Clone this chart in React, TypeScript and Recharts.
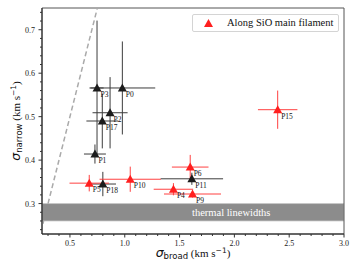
import React from 'react';
import {
  ScatterChart,
  Scatter,
  XAxis,
  YAxis,
  ErrorBar,
  ReferenceArea,
  ReferenceLine,
  Legend,
  Label,
} from 'recharts';

// tick values
const xMajor = [0.5, 1.0, 1.5, 2.0, 2.5, 3.0];
const xTicks = [
  0.3, 0.4, 0.5, 0.6, 0.7, 0.8, 0.9, 1.0, 1.1, 1.2, 1.3, 1.4, 1.5, 1.6, 1.7, 1.8, 1.9,
  2.0, 2.1, 2.2, 2.3, 2.4, 2.5, 2.6, 2.7, 2.8, 2.9, 3.0,
];
const yMajor = [0.3, 0.4, 0.5, 0.6, 0.7];
const yTicks = [
  0.24, 0.26, 0.28, 0.3, 0.32, 0.34, 0.36, 0.38, 0.4, 0.42, 0.44, 0.46, 0.48, 0.5,
  0.52, 0.54, 0.56, 0.58, 0.6, 0.62, 0.64, 0.66, 0.68, 0.7, 0.72, 0.74,
];

// cores not on the filament (black)
const blackNames = ['P0', 'P3', 'P2', 'P17', 'P1', 'P18', 'P11'];
const blackX = [0.978, 0.747, 0.866, 0.795, 0.728, 0.8, 1.612];
const blackY = [0.566, 0.566, 0.509, 0.49, 0.414, 0.345, 0.357];
const blackXErr = [0.3, 0.06, 0.16, 0.145, 0.1, 0.12, 0.285];
const blackYErr = [0.107, 0.155, 0.082, 0.063, 0.022, 0.028, 0.014];

// cores along SiO main filament (red)
const redNames = ['P15', 'P6', 'P10', 'P5', 'P4', 'P9'];
const redX = [2.395, 1.597, 1.05, 0.676, 1.444, 1.618];
const redY = [0.516, 0.384, 0.356, 0.347, 0.333, 0.322];
const redXErr = [0.18, 0.167, 0.28, 0.18, 0.18, 0.26];
const redYErr = [0.044, 0.028, 0.029, 0.019, 0.014, 0.008];

const thermalRange = [0.26, 0.3];
const xDomain = [0.245, 3.0];
const yDomain = [0.23, 0.75];

const RED = '#ff1f1f';
const RED_ERR = '#ff4040';
const BLACK = '#1c1c1c';
const BLACK_ERR = '#3c3c3c';
const SERIF = '"Liberation Serif", "DejaVu Serif", serif';
const SANS = '"DejaVu Sans", sans-serif';

const toRows = (names: string[], xs: number[], ys: number[], ex: number[], ey: number[]) =>
  names.map((name, i) => ({ name, x: xs[i], y: ys[i], ex: ex[i], ey: ey[i] }));

const blackData = toRows(blackNames, blackX, blackY, blackXErr, blackYErr);
const redData = toRows(redNames, redX, redY, redXErr, redYErr);

function triangleShape(color: string) {
  return (props: any) => {
    const { cx, cy, payload } = props;
    if (cx == null || cy == null) return <g />;
    return (
      <g>
        <polygon
          points={`${cx},${cy - 4.5} ${cx - 4.5},${cy + 3.5} ${cx + 4.5},${cy + 3.5}`}
          fill={color}
        />
        <text x={cx + 3.5} y={cy + 9} fontSize={7.5} fontFamily={SERIF} fill="#111">
          {payload.name}
        </text>
      </g>
    );
  };
}

function XTick(props: any) {
  const { x, y, payload } = props;
  const major = xMajor.includes(payload.value);
  return (
    <g>
      <line x1={x} x2={x} y1={y} y2={y + (major ? 3.5 : 2)} stroke="#333" />
      {major && (
        <text x={x} y={y + 12} textAnchor="middle" fontSize={8} fontFamily={SERIF} fill="#222">
          {payload.value.toFixed(1)}
        </text>
      )}
    </g>
  );
}

function YTick(props: any) {
  const { x, y, payload } = props;
  const major = yMajor.includes(payload.value);
  return (
    <g>
      <line x1={x} x2={x - (major ? 3.5 : 2)} y1={y} y2={y} stroke="#333" />
      {major && (
        <text x={x - 7} y={y + 3} textAnchor="end" fontSize={8} fontFamily={SERIF} fill="#222">
          {payload.value.toFixed(1)}
        </text>
      )}
    </g>
  );
}

function LegendBox() {
  return (
    <div
      style={{
        width: 145,
        height: 16,
        border: '1px solid #d4d4d4',
        borderRadius: 2,
        background: '#fff',
        position: 'relative',
      }}
    >
      <svg width={20} height={16} style={{ position: 'absolute', left: 8, top: 0 }}>
        <polygon points="7.5,4 3,12 12,12" fill={RED} />
      </svg>
      <span
        style={{
          position: 'absolute',
          left: 34,
          top: 1,
          fontFamily: SERIF,
          fontSize: 10.5,
          lineHeight: '14px',
          color: '#111',
          whiteSpace: 'nowrap',
        }}
      >
        Along SiO main filament
      </span>
    </div>
  );
}

export default function App() {
  return (
    <div style={{ position: 'absolute', left: 0, top: 0, width: 358, height: 275, background: '#fff' }}>
      <ScatterChart width={358} height={275} margin={{ top: 8, right: 14, bottom: 0, left: 0 }}>
        <XAxis
          type="number"
          dataKey="x"
          domain={xDomain}
          ticks={xTicks}
          allowDataOverflow
          interval={0}
          height={41}
          tickSize={0}
          tickMargin={0}
          tickLine={false}
          tick={<XTick />}
          axisLine={{ stroke: '#222' }}
        >
          <Label
            content={(p: any) => {
              const vb = p.viewBox || {};
              const cx = (vb.x ?? 42) + (vb.width ?? 302) / 2;
              return (
                <text x={cx} y={257} textAnchor="middle" fill="#111">
                  <tspan fontFamily={SANS} fontStyle="italic" fontSize={12.5}>σ</tspan>
                  <tspan fontFamily={SANS} fontSize={8.5} dy={2}>broad</tspan>
                  <tspan fontFamily={SERIF} fontSize={11} dy={-2}> (km s</tspan>
                  <tspan fontFamily={SANS} fontSize={7.5} dy={-4.5}>−1</tspan>
                  <tspan fontFamily={SERIF} fontSize={11} dy={4.5}>)</tspan>
                </text>
              );
            }}
          />
        </XAxis>
        <YAxis
          type="number"
          dataKey="y"
          domain={yDomain}
          ticks={yTicks}
          allowDataOverflow
          interval={0}
          width={42}
          tickSize={0}
          tickMargin={0}
          tickLine={false}
          tick={<YTick />}
          axisLine={{ stroke: '#222' }}
        >
          <Label
            content={(p: any) => {
              const vb = p.viewBox || {};
              const cy = (vb.y ?? 8) + (vb.height ?? 226) / 2;
              return (
                <text
                  x={20}
                  y={cy}
                  textAnchor="middle"
                  fill="#111"
                  transform={`rotate(-90, 20, ${cy})`}
                >
                  <tspan fontFamily={SANS} fontStyle="italic" fontSize={12.5}>σ</tspan>
                  <tspan fontFamily={SANS} fontSize={8.5} dy={2}>narrow</tspan>
                  <tspan fontFamily={SERIF} fontSize={11} dy={-2}> (km s</tspan>
                  <tspan fontFamily={SANS} fontSize={7.5} dy={-4.5}>−1</tspan>
                  <tspan fontFamily={SERIF} fontSize={11} dy={4.5}>)</tspan>
                </text>
              );
            }}
          />
        </YAxis>

        {/* one-to-one line, hidden behind the thermal band */}
        <ReferenceLine
          segment={[
            { x: 0.2, y: 0.2 },
            { x: thermalRange[0], y: thermalRange[0] },
          ]}
          stroke="#aaaaaa"
          strokeWidth={1.5}
          strokeDasharray="5 3"
          ifOverflow="hidden"
        />
        <ReferenceLine
          segment={[
            { x: thermalRange[1], y: thermalRange[1] },
            { x: 0.8, y: 0.8 },
          ]}
          stroke="#aaaaaa"
          strokeWidth={1.5}
          strokeDasharray="5 3"
          ifOverflow="hidden"
        />
        <ReferenceArea
          x1={xDomain[0]}
          x2={xDomain[1]}
          y1={thermalRange[0]}
          y2={thermalRange[1]}
          fill="#8c8c8c"
          fillOpacity={1}
          stroke="#c8c8c8"
          strokeWidth={0.8}
          ifOverflow="hidden"
          label={(p: any) => {
            const vb = p.viewBox || {};
            return (
              <text
                x={(vb.x ?? 42) + 150}
                y={(vb.y ?? 203) + (vb.height ?? 19) / 2 + 3.5}
                fill="#fff"
                fontFamily={SERIF}
                fontSize={10.5}
              >
                thermal linewidths
              </text>
            );
          }}
        />
        <ReferenceArea
          x1={xDomain[0]}
          x2={xDomain[1]}
          y1={yDomain[0]}
          y2={yDomain[1]}
          fill="none"
          stroke="#555"
          strokeWidth={1}
        />

        <Scatter
          name="Other"
          data={blackData}
          shape={triangleShape(BLACK)}
          isAnimationActive={false}
          legendType="none"
        >
          <ErrorBar dataKey="ex" direction="x" width={0} stroke={BLACK_ERR} strokeWidth={1} isAnimationActive={false} />
          <ErrorBar dataKey="ey" direction="y" width={0} stroke={BLACK_ERR} strokeWidth={1} isAnimationActive={false} />
        </Scatter>
        <Scatter
          name="Along SiO main filament"
          data={redData}
          shape={triangleShape(RED)}
          isAnimationActive={false}
        >
          <ErrorBar dataKey="ex" direction="x" width={0} stroke={RED_ERR} strokeWidth={1} isAnimationActive={false} />
          <ErrorBar dataKey="ey" direction="y" width={0} stroke={RED_ERR} strokeWidth={1} isAnimationActive={false} />
        </Scatter>

        <Legend
          layout="horizontal"
          align="center"
          verticalAlign="middle"
          wrapperStyle={{ top: 14, left: 192, width: 147, height: 18 }}
          content={() => <LegendBox />}
        />
      </ScatterChart>
    </div>
  );
}
